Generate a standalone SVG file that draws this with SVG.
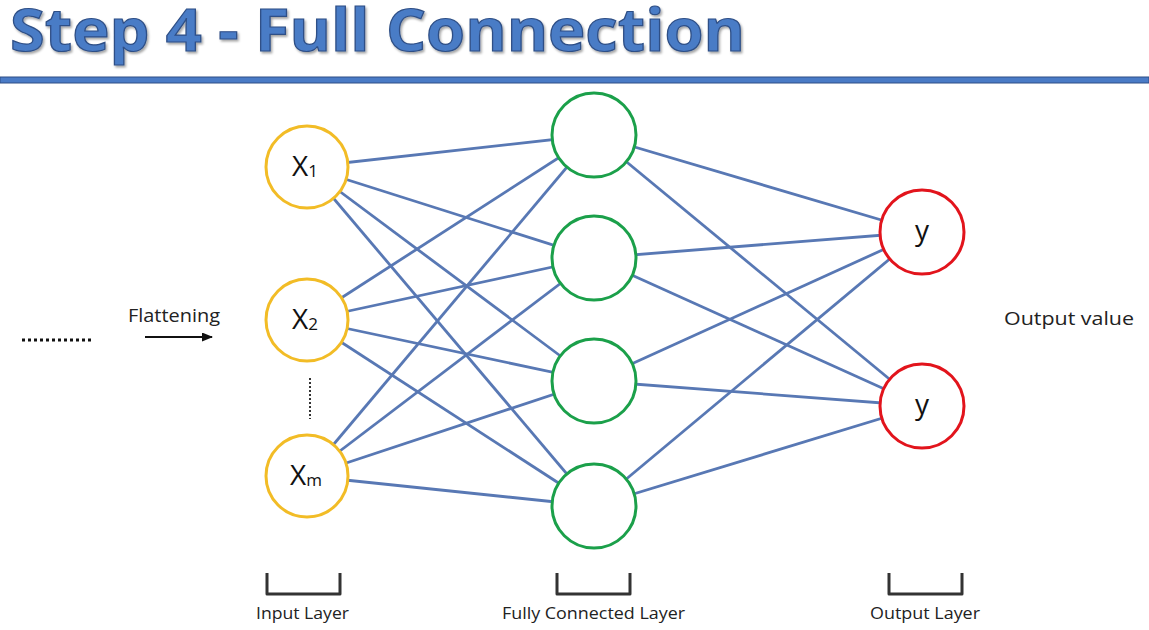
<svg xmlns="http://www.w3.org/2000/svg" width="1149" height="630" viewBox="0 0 1149 630">
<defs>
<style>
.title{font-family:"Open Sans","Liberation Sans",sans-serif;font-weight:700;font-size:59px;fill:#4A7BC6;stroke:#2E4F86;stroke-width:1.2px}
.lbl{font-family:"Open Sans","Liberation Sans",sans-serif;font-size:16px;fill:#222}
.mid{font-family:"Open Sans","Liberation Sans",sans-serif;font-size:18px;fill:#222}
.nt{font-family:"Open Sans","Liberation Sans",sans-serif;font-weight:400;font-size:28px;fill:#111}
.sub{font-size:17px}
.conn line{stroke:#5878B4;stroke-width:2.8}
.in{fill:#fff;stroke:#F2BC26;stroke-width:3}
.hid{fill:#fff;stroke:#1BA04A;stroke-width:3}
.out{fill:#fff;stroke:#E2141C;stroke-width:3}
.br{fill:none;stroke:#333;stroke-width:3;stroke-linejoin:round}
</style>
<marker id="ah" markerWidth="11" markerHeight="9" refX="10" refY="4.5" orient="auto" markerUnits="userSpaceOnUse">
<path d="M0,0 L11,4.5 L0,9 z" fill="#111"/>
</marker>
<filter id="sh" x="-5%" y="-20%" width="110%" height="150%">
<feDropShadow dx="1.5" dy="2" stdDeviation="1.2" flood-color="#000" flood-opacity="0.35"/>
</filter>
</defs>
<rect width="1149" height="630" fill="#fff"/>
<g id="title">
<text class="title" x="10" y="51" textLength="735" lengthAdjust="spacingAndGlyphs" filter="url(#sh)">Step 4 - Full Connection</text>
<rect x="0" y="77" width="1149" height="6" fill="#4A7BC6" stroke="#2E4F86" stroke-width="1"/>
</g>
<g id="connectors" class="conn">
<line x1="307" y1="167" x2="594" y2="135"/>
<line x1="307" y1="167" x2="594" y2="258"/>
<line x1="307" y1="167" x2="594" y2="381"/>
<line x1="307" y1="167" x2="594" y2="506"/>
<line x1="307" y1="320" x2="594" y2="135"/>
<line x1="307" y1="320" x2="594" y2="258"/>
<line x1="307" y1="320" x2="594" y2="381"/>
<line x1="307" y1="320" x2="594" y2="506"/>
<line x1="307" y1="476" x2="594" y2="135"/>
<line x1="307" y1="476" x2="594" y2="258"/>
<line x1="307" y1="476" x2="594" y2="381"/>
<line x1="307" y1="476" x2="594" y2="506"/>
<line x1="594" y1="135" x2="922" y2="232"/>
<line x1="594" y1="135" x2="922" y2="406"/>
<line x1="594" y1="258" x2="922" y2="232"/>
<line x1="594" y1="258" x2="922" y2="406"/>
<line x1="594" y1="381" x2="922" y2="232"/>
<line x1="594" y1="381" x2="922" y2="406"/>
<line x1="594" y1="506" x2="922" y2="232"/>
<line x1="594" y1="506" x2="922" y2="406"/>
</g>
<g id="flatten">
<line x1="22" y1="340" x2="93" y2="340" stroke="#111" stroke-width="3" stroke-dasharray="3,3"/>
<text class="mid" x="128" y="322" textLength="92" lengthAdjust="spacingAndGlyphs">Flattening</text>
<line x1="145" y1="337" x2="212" y2="337" stroke="#111" stroke-width="2" marker-end="url(#ah)"/>
</g>
<g id="x1">
<circle class="in" cx="307" cy="167" r="41"/>
<text class="nt" x="292" y="176">X<tspan class="sub" dy="1">1</tspan></text>
</g>
<g id="x2">
<circle class="in" cx="307" cy="320" r="41"/>
<text class="nt" x="292" y="329">X<tspan class="sub" dy="1">2</tspan></text>
</g>
<line id="vdots" x1="310" y1="378" x2="310" y2="419" stroke="#333" stroke-width="2" stroke-dasharray="2,2"/>
<g id="xm">
<circle class="in" cx="307" cy="476" r="41"/>
<text class="nt" x="290" y="485">X<tspan class="sub" dy="1">m</tspan></text>
</g>
<g id="h1"><circle class="hid" cx="594" cy="135" r="42"/></g>
<g id="h2"><circle class="hid" cx="594" cy="258" r="42"/></g>
<g id="h3"><circle class="hid" cx="594" cy="381" r="42"/></g>
<g id="h4"><circle class="hid" cx="594" cy="506" r="42"/></g>
<g id="y1">
<circle class="out" cx="922" cy="232" r="42"/>
<text class="nt" x="922" y="240" text-anchor="middle">y</text>
</g>
<g id="y2">
<circle class="out" cx="922" cy="406" r="42"/>
<text class="nt" x="922" y="414" text-anchor="middle">y</text>
</g>
<text class="mid" x="1004" y="325" textLength="130" lengthAdjust="spacingAndGlyphs">Output value</text>
<g id="input-layer">
<path class="br" d="M267,573 V594 H340 V573"/>
<text class="lbl" x="256" y="619" textLength="93" lengthAdjust="spacingAndGlyphs">Input Layer</text>
</g>
<g id="fc-layer">
<path class="br" d="M557,573 V594 H630 V573"/>
<text class="lbl" x="502" y="619" textLength="183" lengthAdjust="spacingAndGlyphs">Fully Connected Layer</text>
</g>
<g id="output-layer">
<path class="br" d="M889,573 V594 H962 V573"/>
<text class="lbl" x="870" y="619" textLength="110" lengthAdjust="spacingAndGlyphs">Output Layer</text>
</g>
</svg>
